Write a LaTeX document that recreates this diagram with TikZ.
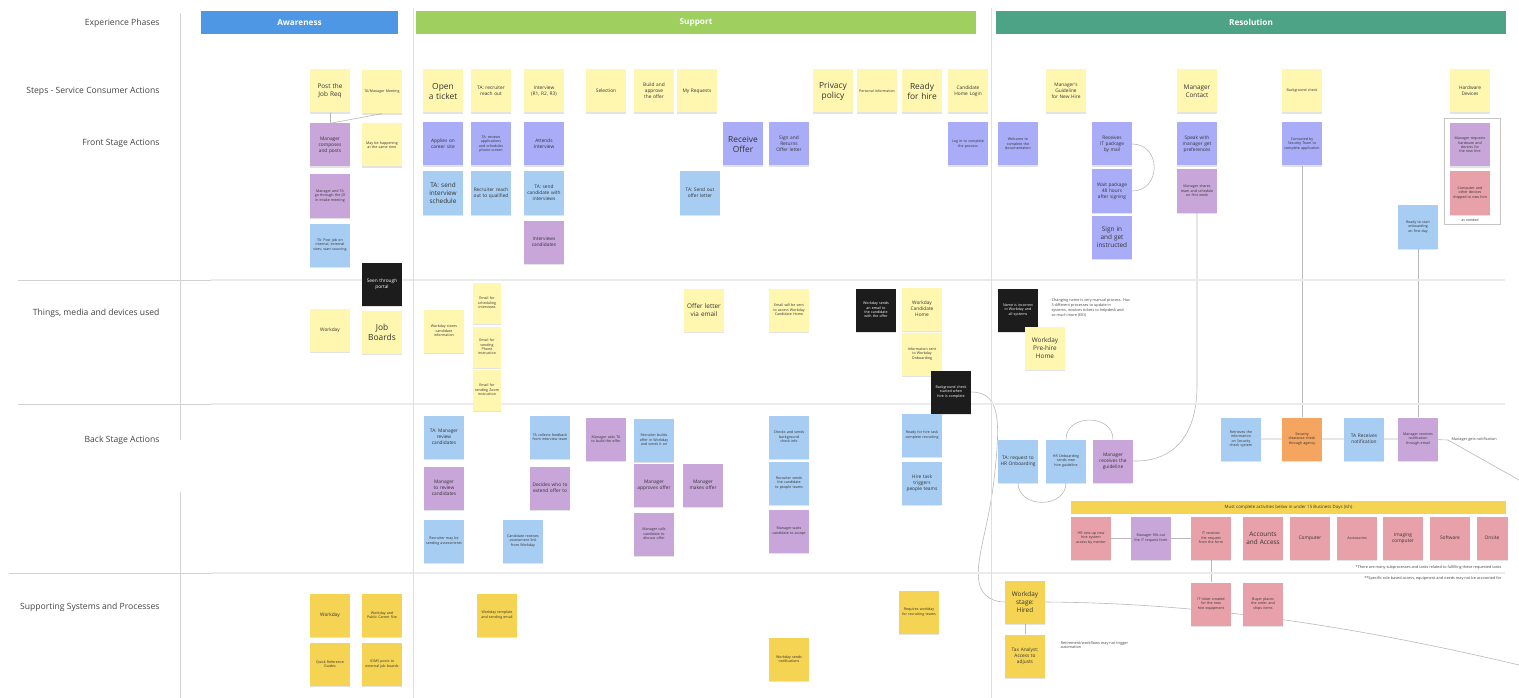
\documentclass[tikz,border=0pt]{standalone}
\usepackage{fontspec}
\setmainfont{Open Sans}
\usetikzlibrary{shadows}

\definecolor{awareBlue}{HTML}{4D97E4}
\definecolor{supportGreen}{HTML}{9FCF5F}
\definecolor{resolveTeal}{HTML}{4CA386}
\definecolor{noteYellow}{HTML}{FFF7B0}
\definecolor{noteViolet}{HTML}{A9ACF7}
\definecolor{noteBlue}{HTML}{A8CDF2}
\definecolor{notePurple}{HTML}{C9A6DA}
\definecolor{noteBlack}{HTML}{1C1C1C}
\definecolor{noteGold}{HTML}{F5D453}
\definecolor{notePink}{HTML}{E8A1A9}
\definecolor{noteOrange}{HTML}{F4A560}
\definecolor{inkGray}{HTML}{333333}
\definecolor{labelGray}{HTML}{444444}

\hyphenpenalty=10000
\exhyphenpenalty=10000

\pgfdeclarelayer{paper}
\pgfdeclarelayer{wires}
\pgfsetlayers{paper,wires,main}

\begin{document}
\begin{tikzpicture}[x=1pt, y=-1pt,
    stk/.style={rectangle, minimum width=40pt, minimum height=43pt, inner sep=1.5pt,
      text width=36pt, align=center, text=inkGray,
      drop shadow={shadow xshift=0pt, shadow yshift=-1.4pt, opacity=.22}},
    narrow/.style={minimum width=28pt, text width=25pt, minimum height=41pt},
    yNote/.style={stk, fill=noteYellow},
    vNote/.style={stk, fill=noteViolet},
    bNote/.style={stk, fill=noteBlue},
    pNote/.style={stk, fill=notePurple},
    kNote/.style={stk, fill=noteBlack, text=white},
    gNote/.style={stk, fill=noteGold},
    rNote/.style={stk, fill=notePink},
    oNote/.style={stk, fill=noteOrange},
    tinyTxt/.style={font=\fontsize{3.6}{4.4}\selectfont},
    smlTxt/.style={font=\fontsize{4.8}{5.9}\selectfont},
    midTxt/.style={font=\fontsize{6.4}{7.8}\selectfont},
    bigTxt/.style={font=\fontsize{8.4}{10}\selectfont},
    lane/.style={anchor=east, text=labelGray, font=\fontsize{8.6}{10}\selectfont},
    phase/.style={minimum height=23pt, inner sep=0pt, text=white, font=\bfseries\fontsize{8.2}{9}\selectfont},
    remark/.style={anchor=west, align=left, text=labelGray, font=\fontsize{3.8}{4.8}\selectfont},
    wire/.style={draw=gray!55, line width=.6pt}]

  \begin{pgfonlayer}{paper}
    \fill[white] (0,0) rectangle (1519,698);
  \end{pgfonlayer}
  \useasboundingbox (0,0) rectangle (1519,698);

  % lane grid
  \draw[gray!35] (18,280) -- (211,280) (18,404) -- (211,404) (9,573) -- (211,573);
  \draw[gray!16, line width=1.2pt] (211,280) -- (1505,280) (211,404) -- (1505,404) (211,573) -- (1505,573);
  \draw[gray!35] (180,13) -- (180,440) (180,492) -- (180,698);
  \draw[gray!25] (413,8) -- (413,698) (991,8) -- (991,698);

  % lane titles
  \node (lblPhases) [lane] at (163,23) {Experience Phases};
  \node (lblSteps) [lane] at (163,91) {Steps - Service Consumer Actions};
  \node (lblFront) [lane] at (163,143) {Front Stage Actions};
  \node (lblThings) [lane] at (163,313) {Things, media and devices used};
  \node (lblBack) [lane] at (163,440) {Back Stage Actions};
  \node (lblSupport) [lane] at (163,607) {Supporting Systems and Processes};

  % phases
  \node (awareness) [phase, fill=awareBlue, minimum width=197pt] at (299.5,22.5) {Awareness};
  \node (support) [phase, fill=supportGreen, minimum width=560pt] at (696,22.5) {Support};
  \node (resolution) [phase, fill=resolveTeal, minimum width=510pt] at (1251,22.5) {Resolution};

  % awareness
  \node (postJob) [yNote, midTxt] at (330,91) {Post the Job Req};
  \node (taMeet) [yNote, tinyTxt] at (382,92) {TA/Manager Meeting};
  \node (mgrPost) [pNote, smlTxt] at (330,145) {Manager composes and posts};
  \node (sameTime) [yNote, tinyTxt] at (382,145) {May be happening at the same time};
  \node (mgrIntake) [pNote, tinyTxt] at (330,196) {Manager and TA go through the JD in intake meeting};
  \node (taPost) [bNote, tinyTxt] at (330,245) {TA: Post job on internal, external sites; start sourcing};
  \node (seenPortal) [kNote, smlTxt] at (382,284) {Seen through portal};
  \node (workdayA) [yNote, smlTxt] at (330,330) {Workday};
  \node (jobBoards) [yNote, bigTxt] at (382,332) {Job Boards};
  \node (wdSys) [gNote, smlTxt] at (330,615) {Workday};
  \node (wdCareer) [gNote, tinyTxt] at (382,615) {Workday and Public Career Site};
  \node (quickRef) [gNote, tinyTxt] at (330,664) {Quick Reference Guides};
  \node (icims) [gNote, tinyTxt] at (382,664) {ICIMS posts to external job boards};

  % support - steps and front stage
  \node (openTicket) [yNote, bigTxt] at (443,91) {Open a ticket};
  \node (taReach) [yNote, smlTxt] at (491,91) {TA: recruiter reach out};
  \node (interview) [yNote, smlTxt] at (544,91) {Interview (R1, R2, R3)};
  \node (selection) [yNote, smlTxt] at (606,91) {Selection};
  \node (buildOffer) [yNote, smlTxt] at (654,91) {Build and approve the offer};
  \node (myReq) [yNote, smlTxt] at (697,91) {My Requests};
  \node (privacy) [yNote, bigTxt] at (833,91) {Privacy policy};
  \node (personal) [yNote, tinyTxt] at (877,91) {Personal information};
  \node (readyHire) [yNote, bigTxt] at (922,91) {Ready for hire};
  \node (candLogin) [yNote, smlTxt] at (968,91) {Candidate Home Login};
  \node (applies) [vNote, smlTxt] at (443,144) {Applies on career site};
  \node (taScreen) [vNote, tinyTxt] at (491,144) {TA: reviews applications and schedules phone screen};
  \node (attends) [vNote, smlTxt] at (544,144) {Attends Interview};
  \node (recvOffer) [vNote, bigTxt] at (743,144) {Receive Offer};
  \node (signOffer) [vNote, smlTxt] at (789,144) {Sign and Returns Offer letter};
  \node (logIn) [vNote, tinyTxt] at (968,144) {Log in to complete the process};
  \node (taSched) [bNote, midTxt] at (443,193) {TA: send interview schedule};
  \node (recrReach) [bNote, smlTxt] at (491,193) {Recruiter reach out to qualified};
  \node (taSendCand) [bNote, smlTxt] at (544,193) {TA: send candidate with interviews};
  \node (taOfferLtr) [bNote, smlTxt] at (700,193) {TA: Send out offer letter};
  \node (intvCand) [pNote, smlTxt] at (544,242) {Interviews candidates};

  % support - things
  \node (wdStores) [yNote, tinyTxt] at (444,331) {Workday stores candidate information};
  \node (emailSched) [yNote, narrow, tinyTxt] at (487,303) {Email for scheduling interviews};
  \node (emailPhone) [yNote, narrow, tinyTxt] at (487,347) {Email for sending Phone instruction};
  \node (emailZoom) [yNote, narrow, tinyTxt] at (487,390) {Email for sending Zoom instruction};
  \node (offerEmail) [yNote, midTxt] at (704,310) {Offer letter via email};
  \node (emailCand) [yNote, tinyTxt] at (789,310) {Email will be sent to access Workday Candidate Home};
  \node (blkOffer) [kNote, tinyTxt] at (876,310) {Workday sends an email to the candidate with the offer};
  \node (wdCandHome) [yNote, smlTxt] at (922,309) {Workday Candidate Home};
  \node (infoSent) [yNote, tinyTxt] at (922,354) {Information sent to Workday Onboarding};
  \node (blkBg) [kNote, tinyTxt] at (951,392) {Background check started when hire is complete};

  % support - back stage
  \node (taMgrRev) [bNote, smlTxt] at (444,437) {TA: Manager review candidates};
  \node (mgrRev) [pNote, smlTxt] at (444,488) {Manager to review candidates};
  \node (recrMay) [bNote, tinyTxt] at (444,541) {Recruiter may be sending assessments};
  \node (candAssess) [bNote, tinyTxt] at (523,541) {Candidate receives assessment link from Workday};
  \node (taCollect) [bNote, tinyTxt] at (550,437) {TA collects feedback from interview team};
  \node (decides) [pNote, smlTxt] at (550,488) {Decides who to extend offer to};
  \node (mgrAsks) [pNote, tinyTxt] at (606,439) {Manager asks TA to build the offer};
  \node (taBuilds) [bNote, tinyTxt] at (654,440) {Recruiter builds offer in Workday and sends it on};
  \node (mgrApproves) [pNote, smlTxt] at (654,485) {Manager approves offer};
  \node (mgrMakes) [pNote, smlTxt] at (703,485) {Manager makes offer};
  \node (mgrCalls) [pNote, tinyTxt] at (654,534) {Manager calls candidate to discuss offer};
  \node (taChecks) [bNote, tinyTxt] at (789,437) {Checks and sends background check info};
  \node (taSends) [bNote, tinyTxt] at (789,483) {Recruiter sends the candidate to people teams};
  \node (mgrWaits) [pNote, tinyTxt] at (789,531) {Manager waits candidate to accept};
  \node (readyTask) [bNote, tinyTxt] at (922,435) {Ready for hire task complete recruiting};
  \node (hireTask) [bNote, smlTxt] at (922,483) {Hire task triggers people teams};

  % support - systems
  \node (wdTemplate) [gNote, tinyTxt] at (497,615) {Workday template and sending email};
  \node (wdNotif) [gNote, tinyTxt] at (789,659) {Workday sends notifications};
  \node (requires) [gNote, tinyTxt] at (919,612) {Requires workday for recruiting teams};

  % resolution - steps and front stage
  \node (mgrGuideStep) [yNote, smlTxt] at (1066,91) {Manager's Guideline for New Hire};
  \node (mgrContact) [yNote, midTxt] at (1197,91) {Manager Contact};
  \node (bgCheck) [yNote, tinyTxt] at (1302,91) {Background check};
  \node (hwDevices) [yNote, smlTxt] at (1470,91) {Hardware Devices};
  \node (welcome) [vNote, tinyTxt] at (1018,144) {Welcome to complete the documentation};
  \node (recvIT) [vNote, smlTxt] at (1112,144) {Receives IT package by mail};
  \node (wait48) [vNote, smlTxt] at (1112,191) {Wait package 48 hours after signing};
  \node (signIn) [vNote, midTxt] at (1112,237) {Sign in and get instructed};
  \node (speakMgr) [vNote, smlTxt] at (1197,144) {Speak with manager get preferences};
  \node (mgrPrefs) [pNote, tinyTxt] at (1197,191) {Manager shares team and schedule on first week};
  \node (contacted) [vNote, tinyTxt] at (1302,144) {Contacted by Security Team to complete application};
  \node (readyStart) [bNote, tinyTxt] at (1418,227) {Ready to start onboarding on first day};
  \node (hwBox) [draw=gray!45, minimum width=56pt, minimum height=106pt] at (1472,171) {};
  \node (mgrHW) [pNote, tinyTxt] at (1470,145) {Manager requests hardware and devices for the new hire};
  \node (compHW) [rNote, tinyTxt] at (1470,193) {Computer and other devices shipped to new hire};
  \node (asNeeded) [text=labelGray, font=\fontsize{3.6}{4.4}\selectfont] at (1470,220) {as needed};

  % resolution - things
  \node (blkName) [kNote, tinyTxt] at (1018,310) {Name is incorrect in Workday and all systems};
  \node (nameRemark) [remark] at (1046,308) {- Changing name is very manual process. Has\\ \ \ 5 different processes to update in\\ \ \ systems, involves tickets to helpdesk and\\ \ \ so much more (EID)};
  \node (wdPrehire) [yNote, midTxt] at (1045,348) {Workday Pre-hire Home};

  % resolution - back stage
  \node (taReqHR) [bNote, smlTxt] at (1018,461) {TA: request to HR Onboarding};
  \node (hrSends) [bNote, tinyTxt] at (1066,461) {HR Onboarding sends new hire guideline};
  \node (mgrGuide) [pNote, smlTxt] at (1113,461) {Manager receives the guideline};
  \node (retrieve) [bNote, tinyTxt] at (1241,439) {Retrieves the information on Security check system};
  \node (secCheck) [oNote, tinyTxt] at (1302,439) {Security clearance check through agency};
  \node (taNotif) [bNote, smlTxt] at (1364,439) {TA Receives notification};
  \node (mgrNotif) [pNote, tinyTxt] at (1418,439) {Manager receives notification through email};
  \node (notifRemark) [remark] at (1448,440) {Manager gets notification};
  \node (banner) [fill=noteGold, minimum width=435pt, minimum height=13pt, inner sep=0pt, text=inkGray, font=\fontsize{4.4}{5}\selectfont] at (1288.5,507) {Must complete activities below in under 15 Business Days (ish)};
  \node (hrAssign) [rNote, tinyTxt] at (1091,538) {HR sets up new hire system access by mentor};
  \node (mgrFills) [pNote, tinyTxt] at (1151,538) {Manager fills out the IT request form};
  \node (itReq) [rNote, tinyTxt] at (1211,538) {IT receives the request from the form};
  \node (accounts) [rNote, midTxt] at (1263,538) {Accounts and Access};
  \node (computer) [rNote, smlTxt] at (1310,538) {Computer};
  \node (accessories) [rNote, tinyTxt] at (1357,538) {Accessories};
  \node (imaging) [rNote, smlTxt] at (1403,538) {Imaging computer};
  \node (software) [rNote, smlTxt] at (1450,538) {Software};
  \node (onsite) [rNote, smlTxt, minimum width=30pt, text width=28pt] at (1492,538) {Onsite};
  \node (noteOne) [remark, anchor=east] at (1505,567) {*There are many subprocesses and tasks related to fulfilling these requested tasks};
  \node (noteTwo) [remark, anchor=east] at (1505,578) {**Specific role-based access, equipment and needs may not be accounted for};

  % resolution - systems
  \node (wdHired) [gNote, midTxt] at (1025,602) {Workday stage: Hired};
  \node (taxAnalyst) [gNote, smlTxt] at (1025,656) {Tax Analyst: Access to adjusts};
  \node (wfRemark) [remark] at (1055,645) {- Retirement/workflows may not trigger\\ \ \ automation};
  \node (itTicket) [rNote, tinyTxt] at (1211,604) {IT ticket created for the new hire equipment};
  \node (buyerOrder) [rNote, tinyTxt] at (1263,604) {Buyer places the order and ships items};

  \coordinate (offRight) at (1519,480);
  \coordinate (offBottom) at (1519,665);

  \begin{pgfonlayer}{wires}
    \draw[wire] (postJob) -- (mgrPost);
    \draw[wire] (taMeet.south) -- (mgrPost.north);
    \draw[wire] (recvIT.east) to[out=0, in=0, looseness=1.6] (wait48.east);
    \draw[wire] (mgrPrefs.south) -- (1197,385) .. controls (1197,445) and (1165,462) .. (mgrGuide.east);
    \draw[wire] (hrSends.north) to[out=90, in=90, looseness=1.4] (mgrGuide.north);
    \draw[wire] (taReqHR.south) to[out=-90, in=-90, looseness=1.4] (hrSends.south);
    \draw[wire] (contacted) -- (secCheck);
    \draw[wire] (readyStart) -- (mgrNotif);
    \draw[wire] (retrieve) -- (secCheck) -- (taNotif) -- (mgrNotif) -- (notifRemark.west);
    \draw[wire] (notifRemark.west) -- (offRight);
    \draw[wire] (hrAssign) -- (mgrFills) -- (itReq);
    \draw[wire] (itReq) -- (itTicket);
    \draw[wire] (wdHired) -- (taxAnalyst);
    \draw[wire] (blkBg.east) .. controls (1002,392) and (1000,425) .. (994,480)
      .. controls (988,530) and (975,560) .. (979,582)
      .. controls (982,598) and (995,602) .. (wdHired.west);
    \draw[wire] (wdHired.east) .. controls (1200,603) and (1350,625) .. (offBottom);
  \end{pgfonlayer}
\end{tikzpicture}
\end{document}
